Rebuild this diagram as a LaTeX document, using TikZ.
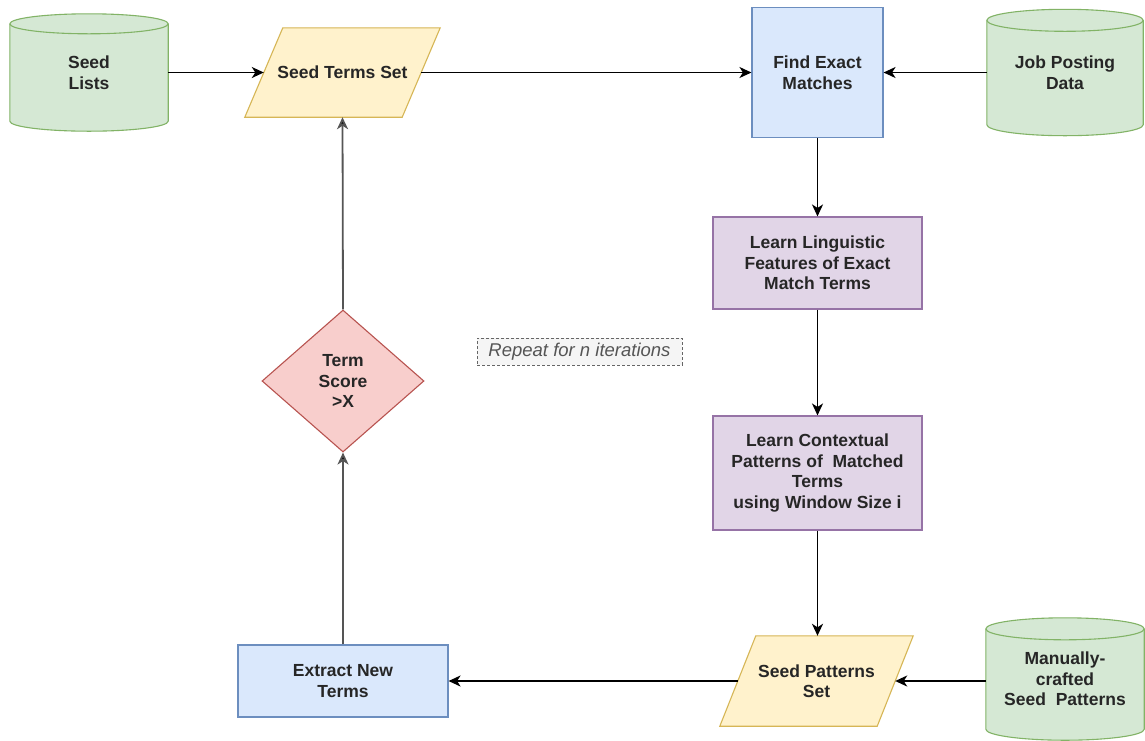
\documentclass[tikz,border=0pt]{standalone}
\usepackage{fontspec}
\setmainfont{Liberation Sans}
\usetikzlibrary{shapes.geometric,arrows.meta,calc,backgrounds}
\definecolor{txt}{HTML}{262626}
\definecolor{gfill}{HTML}{D5E8D4}\definecolor{gline}{HTML}{82B366}
\definecolor{yfill}{HTML}{FFF2CC}\definecolor{yline}{HTML}{D6B656}
\definecolor{bfill}{HTML}{DAE8FC}\definecolor{bline}{HTML}{6C8EBF}
\definecolor{pfill}{HTML}{E1D5E7}\definecolor{pline}{HTML}{9673A6}
\definecolor{rfill}{HTML}{F8CECC}\definecolor{rline}{HTML}{B85450}
\definecolor{nfill}{HTML}{F5F5F5}\definecolor{nline}{HTML}{666666}
\definecolor{darkarrow}{HTML}{555555}
\tikzset{
  x=1pt,y=1pt,
  lbl/.style={text=txt,font=\fontsize{17.5}{20.5}\selectfont\bfseries,align=center,inner sep=2pt},
  procbox/.style={lbl,rectangle,draw=bline,fill=bfill,line width=1.1pt},
  learnbox/.style={lbl,rectangle,draw=pline,fill=pfill,line width=1.1pt},
  ionode/.style={lbl,rectangle,draw=none},
  iofill/.style={fill=yfill,draw=yline,line width=1.1pt},
  dbnode/.style={lbl,rectangle,draw=none},
  dbfill/.style={fill=gfill,draw=gline,line width=1.1pt},
  decbox/.style={lbl,diamond,draw=rline,fill=rfill,line width=1.1pt,inner sep=0pt},
  notebox/.style={rectangle,draw=nline,fill=nfill,dashed,dash pattern=on 3pt off 2pt,line width=0.8pt,text=darkarrow,font=\fontsize{18.5}{21}\selectfont\itshape,inner sep=2pt},
  conn/.style={line width=1.8pt,draw=black,-{Stealth[length=12pt,width=11pt,inset=3.5pt]}},
  gconn/.style={conn,draw=darkarrow,-{Stealth[length=12pt,width=11pt,inset=3.5pt,fill=black]}},
}
\newcommand\dbshape[2]{%
\begin{pgfonlayer}{background}
\path[dbfill] let \p1=(#1.north west), \p2=(#1.south east), \n1={(\x2-\x1)/2} in
  (\x1,\y1-#2pt) -- (\x1,\y2+#2pt) arc[start angle=180,end angle=360,x radius=\n1,y radius=#2pt]
  -- (\x2,\y1-#2pt) arc[start angle=0,end angle=180,x radius=\n1,y radius=#2pt] -- cycle;
\draw[gline,line width=1.1pt] let \p1=(#1.north west), \p2=(#1.south east), \n1={(\x2-\x1)/2} in
  (\x1,\y1-#2pt) arc[start angle=180,end angle=360,x radius=\n1,y radius=#2pt];
\end{pgfonlayer}}
\newcommand\ioshape[2]{%
\begin{pgfonlayer}{background}
\path[iofill] ($(#1.north west)+(#2pt,0)$) -- ($(#1.north east)+(#2pt,0)$)
  -- ($(#1.south east)+(-#2pt,0)$) -- ($(#1.south west)+(-#2pt,0)$) -- cycle;
\end{pgfonlayer}}
\begin{document}
\begin{tikzpicture}
\useasboundingbox (0,0) rectangle (1145,-740);
\begin{pgfonlayer}{background}
\fill[white] (0,0) rectangle (1145,-740);
\end{pgfonlayer}
% nodes
\node[dbnode,minimum width=158,minimum height=117] (seedlists) at (89,-72.5) {Seed\\Lists};
\node[ionode,minimum width=157,minimum height=89] (sts) at (342.5,-72.5) {Seed Terms Set};
\node[procbox,minimum width=131,minimum height=130] (fem) at (817.5,-72.5) {Find Exact\\Matches};
\node[dbnode,minimum width=156,minimum height=126] (jpd) at (1065,-72.5) {Job Posting\\Data};
\node[learnbox,minimum width=209,minimum height=92] (llf) at (817.5,-263) {Learn Linguistic\\Features of Exact\\Match Terms};
\node[learnbox,minimum width=209,minimum height=114] (lcp) at (817.5,-473) {Learn Contextual\\Patterns of\ \ Matched\\Terms\\using Window Size i};
\node[ionode,minimum width=157,minimum height=90] (sps) at (816.5,-681) {Seed Patterns\\Set};
\node[dbnode,minimum width=158,minimum height=122] (mcs) at (1065,-679) {Manually-\\crafted\\Seed\ \ Patterns};
\node[procbox,minimum width=210,minimum height=72] (ent) at (343,-681) {Extract New\\Terms};
\node[decbox,minimum width=162,minimum height=142,aspect=1.14] (dec) at (343,-381) {Term\\Score\\{>}X};
\node[notebox,minimum width=205,minimum height=27] (note) at (579.5,-351.5) {Repeat for n iterations};
\dbshape{seedlists}{10}
\dbshape{jpd}{11}
\dbshape{mcs}{11}
\ioshape{sts}{19}
\ioshape{sps}{18}
% connectors
\draw[conn] (seedlists.east) -- (sts.west);
\draw[conn] (sts.east) -- (fem.west);
\draw[conn] (jpd.west) -- (fem.east);
\draw[conn] (fem.south) -- (llf.north);
\draw[conn] (llf.south) -- (lcp.north);
\draw[conn] (lcp.south) -- (sps.north -| lcp.south);
\draw[conn] (mcs.west |- sps.east) -- (sps.east);
\draw[conn] (sps.west) -- (ent.east);
\draw[gconn] (ent.north) -- (dec.south);
\draw[gconn] (dec.north) -- (sts.south);
\end{tikzpicture}
\end{document}
